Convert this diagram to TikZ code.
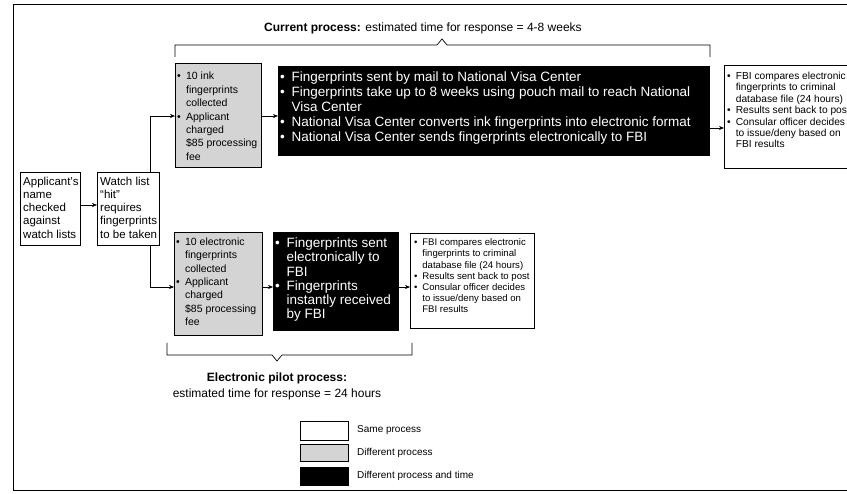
\documentclass[tikz,border=0pt]{standalone}
\usepackage{fontspec}
\setmainfont{Liberation Sans}
\usetikzlibrary{arrows.meta}
\newcommand\bu{\makebox[0.85em][l]{\textbullet}}
\newcommand\hng{\hspace*{0.85em}}
\begin{document}
\begin{tikzpicture}[x=1pt,y=-1pt,
  box/.style={draw, line width=0.7pt, inner sep=0pt, anchor=north west},
  wbox/.style={box, fill=white},
  gbox/.style={box, fill=black!17},
  kbox/.style={box, fill=black},
  txt/.style={inner sep=0pt, align=left, anchor=north west},
  smalltxt/.style={txt, font=\fontsize{9.6}{11.2}\selectfont},
  midtxt/.style={txt, font=\fontsize{10.5}{13.4}\selectfont},
  lfttxt/.style={txt, font=\fontsize{11.5}{13.3}\selectfont},
  bigtxt/.style={txt, text=white, font=\fontsize{13.5}{15}\selectfont},
  arr/.style={-{Stealth[length=5pt,width=4pt]}, line width=0.6pt},
  frameline/.style={line width=0.7pt},
  captxt/.style={inner sep=0pt, font=\fontsize{12}{14}\selectfont}
]
\useasboundingbox (0,0) rectangle (847,494);
\clip (0,0) rectangle (847,494);
\fill[white] (0,0) rectangle (847,494);

% outer frame
\draw[frameline] (850,4) -- (13,4) -- (13,490) -- (850,490);

% title and top bracket
\node[captxt] (title) at (423,28) {\textbf{Current process:} estimated time for response = 4-8 weeks};
\draw[frameline] (175,57) -- (175,45) -- (437,45) -- (442,39) -- (447,45) -- (710,45) -- (710,57);

% left boxes
\node[wbox, minimum width=60pt, minimum height=73pt] (a1) at (20,172) {};
\node[lfttxt] (a1t) at (23,176.5) {Applicant's\\name\\checked\\against\\watch lists};
\node[wbox, minimum width=62pt, minimum height=73pt] (w1) at (97,172) {};
\node[lfttxt] (w1t) at (100,176.5) {Watch list\\``hit''\\requires\\fingerprints\\to be taken};

% top row
\node[gbox, minimum width=86pt, minimum height=104pt] (g1) at (175,63) {};
\node[midtxt] (g1t) at (177,72) {\bu 10 ink\\\hng fingerprints\\\hng collected\\\bu Applicant\\\hng charged\\\hng \$85 processing\\\hng fee};
\node[kbox, minimum width=431pt, minimum height=89pt] (b1) at (278,66) {};
\node[bigtxt] (b1t) at (280,72) {\bu Fingerprints sent by mail to National Visa Center\\
\bu Fingerprints take up to 8 weeks using pouch mail to reach National\\
\hng Visa Center\\
\bu National Visa Center converts ink fingerprints into electronic format\\
\bu National Visa Center sends fingerprints electronically to FBI};
\node[wbox, minimum width=140pt, minimum height=103pt] (r1) at (724,65) {};
\node[smalltxt, font=\fontsize{10.2}{11.4}\selectfont] (r1t) at (727,72) {\bu FBI compares electronic\\\hng fingerprints to criminal\\\hng database file (24 hours)\\\bu Results sent back to post\\\bu Consular officer decides\\\hng to issue/deny based on\\\hng FBI results};

% bottom row
\node[gbox, minimum width=88pt, minimum height=103pt] (g2) at (174,232) {};
\node[midtxt] (g2t) at (176,237.5) {\bu 10 electronic\\\hng fingerprints\\\hng collected\\\bu Applicant\\\hng charged\\\hng \$85 processing\\\hng fee};
\node[kbox, minimum width=125pt, minimum height=98pt] (b2) at (273,232) {};
\node[bigtxt, font=\fontsize{13.5}{14.3}\selectfont] (b2t) at (275,237.5) {\bu Fingerprints sent\\\hng electronically to\\\hng FBI\\\bu Fingerprints\\\hng instantly received\\\hng by FBI};
\node[wbox, minimum width=124pt, minimum height=95pt] (r2) at (410,233) {};
\node[smalltxt] (r2t) at (414,238.5) {\bu FBI compares electronic\\\hng fingerprints to criminal\\\hng database file (24 hours)\\\bu Results sent back to post\\\bu Consular officer decides\\\hng to issue/deny based on\\\hng FBI results};

% bottom bracket and caption
\draw[frameline] (167,343) -- (167,355) -- (272,355) -- (277,361) -- (282,355) -- (412,355) -- (412,343);
\node[captxt, font=\fontsize{12}{14}\selectfont\bfseries] (cap1) at (277,378) {Electronic pilot process:};
\node[captxt] (cap2) at (277,394) {estimated time for response = 24 hours};

% connectors
\draw[arr] (a1.east |- 0,205) -- (w1.west |- 0,205);
\draw[arr] (w1.north -| 150,0) |- (g1.west |- 0,116);
\draw[arr] (w1.south -| 150,0) |- (g2.west |- 0,287);
\draw[arr] (g1.east |- 0,116) -- (b1.west |- 0,116);
\draw[arr] (b1.east |- 0,128) -- (r1.west |- 0,128);
\draw[arr] (g2.east |- 0,287) -- (b2.west |- 0,287);
\draw[arr] (b2.east |- 0,287) -- (r2.west |- 0,287);

% legend
\node[wbox, minimum width=48pt, minimum height=19pt] (l1) at (300,421) {};
\node[gbox, minimum width=48pt, minimum height=17pt] (l2) at (300,444) {};
\node[kbox, minimum width=48pt, minimum height=18pt] (l3) at (300,467) {};
\node[smalltxt, font=\fontsize{10}{12}\selectfont, anchor=west] (l1t) at (357,430.5) {Same process};
\node[smalltxt, font=\fontsize{10}{12}\selectfont, anchor=west] (l2t) at (357,452.5) {Different process};
\node[smalltxt, font=\fontsize{10}{12}\selectfont, anchor=west] (l3t) at (357,476) {Different process and time};
\end{tikzpicture}
\end{document}
